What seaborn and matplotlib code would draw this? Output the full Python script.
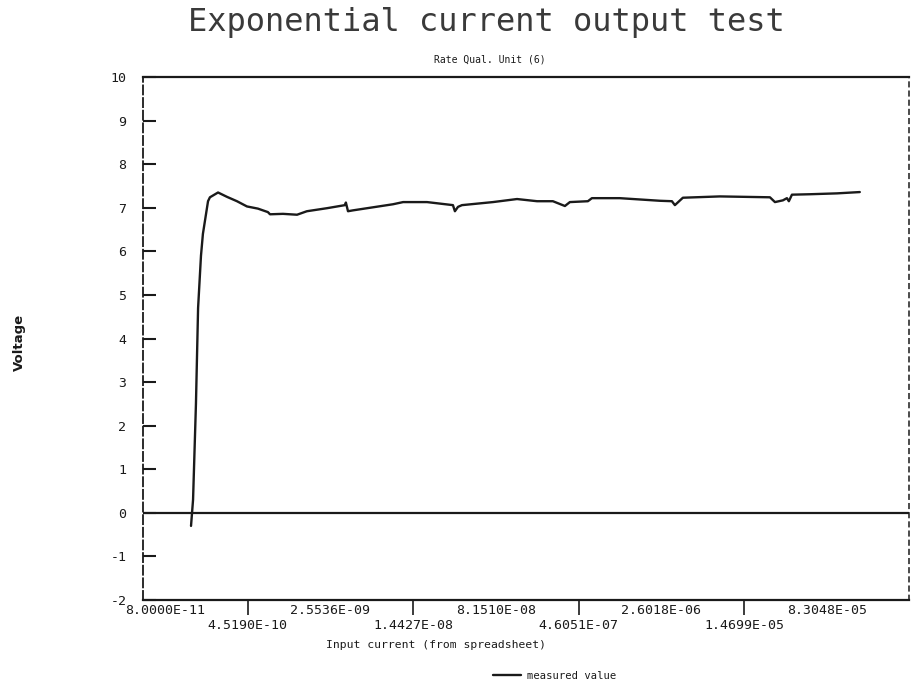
import matplotlib
matplotlib.use("Agg")
import matplotlib.pyplot as plt
import matplotlib.ticker as mticker
import numpy as np
import pandas as pd
import seaborn as sns

# Input current (A) and measured output voltage (V)
current = [
    1.38e-10, 1.44e-10, 1.53e-10, 1.60e-10, 1.70e-10, 1.77e-10, 1.97e-10,
    2.05e-10, 2.43e-10, 2.93e-10, 3.61e-10, 4.45e-10, 5.60e-10, 6.90e-10,
    7.21e-10, 9.46e-10, 1.27e-9, 1.56e-9, 2.38e-9, 3.46e-9, 3.53e-9,
    3.69e-9, 4.09e-9, 6.22e-9, 9.46e-9, 1.17e-8, 1.93e-8, 3.32e-8,
    3.46e-8, 3.69e-8, 4.01e-8, 7.67e-8, 1.27e-7, 1.93e-7, 2.69e-7,
    3.46e-7, 3.84e-7, 5.60e-7, 6.09e-7, 1.09e-6, 2.53e-6, 3.25e-6,
    3.46e-6, 4.09e-6, 8.87e-6, 2.53e-5, 2.81e-5, 3.32e-5, 3.61e-5,
    3.76e-5, 4.01e-5, 5.85e-5, 1.03e-4, 1.66e-4,
]
voltage = [
    -0.30, 0.30, 2.50, 4.70, 5.90, 6.40, 7.15,
    7.24, 7.35, 7.25, 7.15, 7.03, 6.98, 6.90,
    6.85, 6.86, 6.84, 6.92, 6.99, 7.06, 7.12,
    6.92, 6.94, 7.01, 7.08, 7.13, 7.13, 7.06,
    6.92, 7.02, 7.06, 7.13, 7.20, 7.15, 7.15,
    7.04, 7.13, 7.15, 7.22, 7.22, 7.16, 7.15,
    7.06, 7.23, 7.26, 7.24, 7.13, 7.17, 7.22,
    7.15, 7.30, 7.31, 7.33, 7.36,
]

# Current steps printed along the x axis
tick_values = [8.0000e-11, 4.5190e-10, 2.5536e-09, 1.4427e-08, 8.1510e-08,
               4.6051e-07, 2.6018e-06, 1.4699e-05, 8.3048e-05]
tick_labels = ["8.0000E-11", "4.5190E-10", "2.5536E-09", "1.4427E-08",
               "8.1510E-08", "4.6051E-07", "2.6018E-06", "1.4699E-05",
               "8.3048E-05"]
y_ticks = list(range(-2, 11))

df = pd.DataFrame({"current": current, "voltage": voltage})

sns.set_theme(style="white")
plt.rcParams["font.family"] = ["DejaVu Sans Mono", "DejaVu Sans"]
ink = "#1a1a1a"

fig = plt.figure(figsize=(9.11, 6.83), dpi=100)
fig.subplots_adjust(left=143 / 911, right=909 / 911,
                    top=1 - 77 / 683, bottom=1 - 600 / 683)
ax = fig.add_subplot(111)

sns.lineplot(data=df, x="current", y="voltage", ax=ax, color=ink,
             linewidth=1.7, label="measured value", legend=False)
ax.axhline(0, color=ink, linewidth=1.6, zorder=1)

ax.set_xscale("log")
ax.set_xlim(5.05e-11, 4.65e-4)
ax.set_ylim(-2, 10)

# Alternate the x labels over two rows; the lower-row ticks draw a
# separator mark in the gap between the upper-row labels
ax.xaxis.set_major_locator(mticker.FixedLocator(tick_values))
ax.xaxis.set_minor_locator(mticker.NullLocator())
ax.set_xticklabels([("" if i % 2 == 0 else "\n") + t
                    for i, t in enumerate(tick_labels)])
ax.tick_params(axis="x", which="major", bottom=True, direction="out",
               length=0, width=1.2, color=ink, pad=3,
               labelsize=9.5, labelcolor=ink)
for i, tick in enumerate(ax.xaxis.get_major_ticks()):
    if i % 2 == 1:
        tick.tick1line.set_markersize(11)

ax.set_yticks(y_ticks)
ax.set_yticklabels([str(v) for v in y_ticks])
ax.tick_params(axis="y", which="major", left=True, direction="in",
               length=9, width=1.5, color=ink, pad=12,
               labelsize=9.5, labelcolor=ink)

for side in ["top", "bottom"]:
    ax.spines[side].set_color(ink)
    ax.spines[side].set_linewidth(1.6)
ax.spines["left"].set_color(ink)
ax.spines["left"].set_linewidth(1.3)
ax.spines["left"].set_linestyle((0, (5, 2)))
ax.spines["right"].set_color(ink)
ax.spines["right"].set_linewidth(1.1)
ax.spines["right"].set_linestyle((0, (3, 3)))

ax.set_xlabel("")
ax.set_ylabel("")

fig.text(486 / 911, 1 - 22 / 683, "Exponential current output test",
         ha="center", va="center", fontsize=23, color="#3a3a3a")
fig.text(490 / 911, 1 - 60 / 683, "Rate Qual. Unit (6)",
         ha="center", va="center", fontsize=7, color=ink)
fig.text(19 / 911, 1 - 342 / 683, "Voltage", rotation=90,
         ha="center", va="center", fontsize=9.5, fontweight="bold",
         family="DejaVu Sans", color=ink)
fig.text(436 / 911, 1 - 645 / 683, "Input current (from spreadsheet)",
         ha="center", va="center", fontsize=8.2, color=ink)

handles, labels = ax.get_legend_handles_labels()
fig.legend(handles, labels, loc="center",
           bbox_to_anchor=(555 / 911, 1 - 676 / 683), frameon=False,
           fontsize=7.6, handlelength=2.6, handletextpad=0.6,
           labelcolor=ink)

fig.savefig("out.png", dpi=100)
